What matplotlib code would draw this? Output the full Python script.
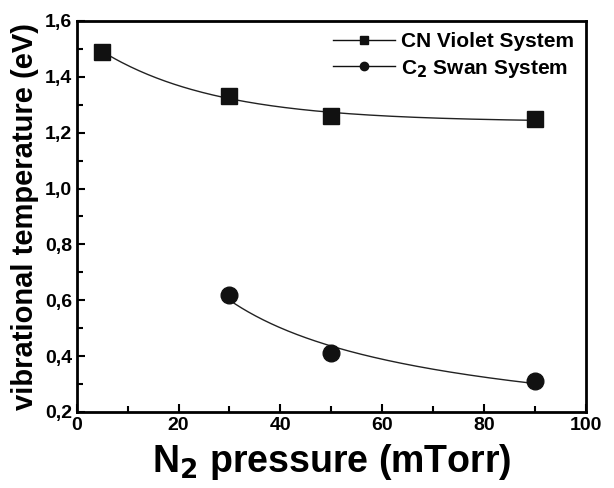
"""
Vibrational temperature of CN and C2 vs N2 pressure, with fitted trend curves.
"""

import numpy as np
import matplotlib
matplotlib.use('Agg')
import matplotlib.pyplot as plt
from matplotlib.ticker import MultipleLocator, FuncFormatter

plt.rcParams['font.family'] = ['Liberation Sans', 'DejaVu Sans']
plt.rcParams['font.weight'] = 'bold'

# data
cn_p = np.array([5, 30, 50, 90])
cn_t = np.array([1.49, 1.33, 1.26, 1.25])
c2_p = np.array([30, 50, 90])
c2_t = np.array([0.62, 0.41, 0.31])


def fit_exp_decay(x, y):
    """y = y0 + A exp(-x/t), grid search on t, linear LSQ for y0, A."""
    best = None
    for t in np.linspace(2, 200, 2000):
        M = np.column_stack([np.ones_like(x, dtype=float), np.exp(-x / t)])
        coef, *_ = np.linalg.lstsq(M, y, rcond=None)
        err = np.sum((M @ coef - y) ** 2)
        if best is None or err < best[0]:
            best = (err, t, coef)
    _, t, (y0, a) = best
    return lambda xx: y0 + a * np.exp(-xx / t)


def fit_power(x, y):
    k, c = np.polyfit(np.log(x), np.log(y), 1)
    return lambda xx: np.exp(c) * xx ** k


def main():
    fig = plt.figure(figsize=(6.14, 4.88), dpi=100)
    ax = fig.add_axes([0.125, 0.156, 0.829, 0.801])

    f_cn = fit_exp_decay(cn_p, cn_t)
    xs = np.linspace(cn_p.min(), cn_p.max(), 200)
    ax.plot(xs, f_cn(xs), color='#222222', lw=1.0)
    f_c2 = fit_power(c2_p, c2_t)
    xs2 = np.linspace(c2_p.min(), c2_p.max(), 200)
    ax.plot(xs2, f_c2(xs2), color='#222222', lw=1.0)

    ax.plot(cn_p, cn_t, 's', color='#111111', ms=11, ls='none')
    ax.plot(c2_p, c2_t, 'o', color='#111111', ms=12, ls='none')

    # legend proxies: line + marker
    ax.plot([], [], '-s', color='#111111', ms=6, lw=1.0, label='CN Violet System')
    ax.plot([], [], '-o', color='#111111', ms=6, lw=1.0, label=r'C$_{2}$ Swan System')
    ax.legend(loc='upper right', frameon=False, handlelength=3.0,
              handletextpad=0.3, borderaxespad=0.15, labelspacing=0.3,
              prop={'size': 15, 'weight': 'bold'})

    ax.set_xlim(0, 100)
    ax.set_ylim(0.2, 1.6)
    ax.xaxis.set_major_locator(MultipleLocator(20))
    ax.xaxis.set_minor_locator(MultipleLocator(10))
    ax.yaxis.set_major_locator(MultipleLocator(0.2))
    ax.yaxis.set_minor_locator(MultipleLocator(0.1))
    ax.yaxis.set_major_formatter(FuncFormatter(lambda v, _: f'{v:.1f}'.replace('.', ',')))
    ax.tick_params(which='both', direction='in', width=1.5, labelsize=14,
                   top=False, right=False)
    ax.tick_params(which='major', length=6)
    ax.tick_params(which='minor', length=4)
    for s in ax.spines.values():
        s.set_linewidth(2.0)
    for lab in ax.get_xticklabels() + ax.get_yticklabels():
        lab.set_fontweight('bold')

    ax.set_xlabel(r'N$_{2}$ pressure (mTorr)', fontsize=27, fontweight='bold', labelpad=6)
    ax.set_ylabel('vibrational temperature (eV)', fontsize=21, fontweight='bold', labelpad=4)

    fig.savefig('out.png', dpi=100)
    plt.close(fig)


if __name__ == '__main__':
    main()
